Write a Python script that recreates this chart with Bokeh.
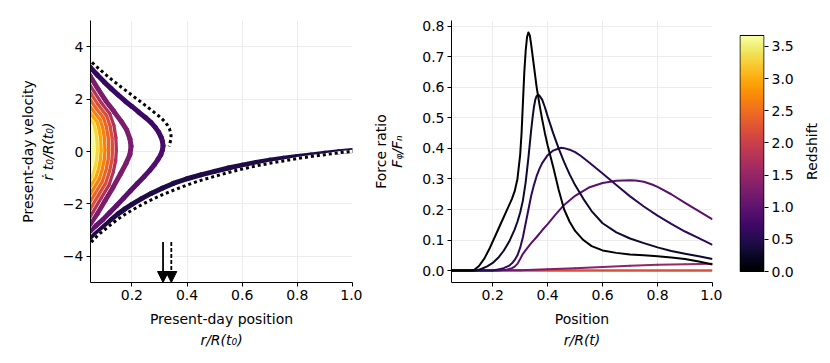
import numpy as np
from bokeh.plotting import figure
from bokeh.layouts import row
from bokeh.models import (ColumnDataSource, FixedTicker, PrintfTickFormatter, Title,
                          Arrow, NormalHead, LinearColorMapper)
from bokeh.palettes import Inferno256
from bokeh.transform import linear_cmap
from bokeh.embed import file_html
from bokeh.resources import INLINE

FONT = "DejaVu Sans"
FS = "14px"
Z_MAX = 3.67

# ---------------- left panel data: present-day phase space ----------------
branch_r = [0.04, 0.05, 0.06, 0.07, 0.085, 0.10, 0.125, 0.15, 0.175, 0.20, 0.235, 0.27, 0.31, 0.35, 0.40,
            0.45, 0.50, 0.55, 0.60, 0.65, 0.70, 0.75, 0.80, 0.85, 0.90, 0.95, 1.0]
branch_v = [-3.55, -3.35, -3.22, -3.1, -2.96, -2.83, -2.6, -2.38, -2.19, -2.02, -1.8, -1.6, -1.4, -1.22, -1.04,
            -0.89, -0.76, -0.63, -0.52, -0.42, -0.33, -0.26, -0.19, -0.13, -0.07, -0.01, 0.04]
branch_z = 0.45

outer_r = [0.04, 0.05, 0.075, 0.10, 0.125, 0.15, 0.175, 0.20, 0.225, 0.25, 0.27, 0.285, 0.297, 0.306, 0.311,
           0.313, 0.311, 0.305, 0.295, 0.282, 0.265, 0.245, 0.22, 0.195, 0.17, 0.145, 0.12, 0.095, 0.07, 0.05, 0.04]
outer_v = [3.33, 3.2, 2.92, 2.65, 2.4, 2.16, 1.93, 1.72, 1.5, 1.29, 1.1, 0.92, 0.74, 0.55, 0.38,
           0.22, 0.06, -0.12, -0.3, -0.5, -0.72, -0.95, -1.22, -1.5, -1.78, -2.06, -2.33, -2.6, -2.83, -3.02, -3.12]
outer_z = [0.62, 0.62, 0.63, 0.64, 0.65, 0.66, 0.67, 0.68, 0.69, 0.7, 0.71, 0.72, 0.74, 0.76, 0.78,
           0.8, 0.82, 0.84, 0.86, 0.87, 0.88, 0.9, 0.92, 0.94, 0.96, 0.98, 1.0, 1.02, 1.04, 1.05, 1.05]

inner1_r = [0.04, 0.05, 0.078, 0.106, 0.134, 0.162, 0.181, 0.193, 0.197, 0.193, 0.179, 0.159, 0.131, 0.103, 0.075, 0.05, 0.04]
inner1_v = [3.02, 2.85, 2.37, 1.92, 1.54, 1.14, 0.83, 0.48, 0.2, -0.11, -0.45, -0.85, -1.38, -1.87, -2.37, -2.75, -2.9]
inner2_r = [0.0398, 0.0609, 0.0888, 0.1171, 0.1316, 0.1388, 0.1406, 0.1381, 0.1298, 0.1138, 0.0859, 0.058, 0.0398]
inner2_v = [2.614, 2.26, 1.809, 1.427, 0.992, 0.534, 0.05, -0.344, -0.763, -1.275, -1.763, -2.263, -2.588]
inner3_r = [0.0281, 0.0492, 0.0771, 0.1054, 0.1182, 0.1251, 0.1268, 0.1245, 0.1166, 0.102, 0.0741, 0.0462, 0.028]
inner3_v = [2.537, 2.183, 1.732, 1.35, 0.956, 0.519, 0.05, -0.324, -0.725, -1.201, -1.689, -2.189, -2.514]
inner4_r = [0.0164, 0.0375, 0.0654, 0.0937, 0.1049, 0.1114, 0.113, 0.1108, 0.1033, 0.0901, 0.0622, 0.0343, 0.0161]
inner4_v = [2.46, 2.106, 1.655, 1.273, 0.92, 0.505, 0.05, -0.303, -0.687, -1.127, -1.615, -2.115, -2.44]
inner5_r = [0.0047, 0.0258, 0.0537, 0.082, 0.0915, 0.0977, 0.0993, 0.0972, 0.0901, 0.0783, 0.0504, 0.0225, 0.0043]
inner5_v = [2.383, 2.029, 1.578, 1.196, 0.883, 0.49, 0.05, -0.283, -0.65, -1.053, -1.541, -2.041, -2.366]
inner6_r = [-0.0071, 0.0141, 0.042, 0.0703, 0.0781, 0.084, 0.0855, 0.0835, 0.0769, 0.0664, 0.0385, 0.0106, -0.0076]
inner6_v = [2.307, 1.953, 1.502, 1.12, 0.847, 0.476, 0.05, -0.263, -0.612, -0.979, -1.467, -1.967, -2.292]
inner7_r = [-0.0188, 0.0023, 0.0302, 0.0585, 0.0648, 0.0703, 0.0717, 0.0699, 0.0637, 0.0546, 0.0267, -0.0012, -0.0194]
inner7_v = [2.23, 1.876, 1.425, 1.043, 0.811, 0.461, 0.05, -0.243, -0.575, -0.905, -1.393, -1.893, -2.218]
inner8_r = [-0.0305, -0.0094, 0.0185, 0.0468, 0.0514, 0.0565, 0.0579, 0.0563, 0.0504, 0.0427, 0.0148, -0.0131, -0.0313]
inner8_v = [2.153, 1.799, 1.348, 0.966, 0.775, 0.447, 0.05, -0.222, -0.537, -0.831, -1.319, -1.819, -2.144]
inner_z = [1.25, 1.75, 2.17, 2.42, 2.64, 2.94, 3.3, 3.62]

dot_up_r = [0.04, 0.05, 0.075, 0.10, 0.125, 0.15, 0.175, 0.20, 0.225, 0.25, 0.27, 0.29, 0.305, 0.318, 0.328,
            0.336, 0.34, 0.342, 0.341, 0.338, 0.335]
dot_up_v = [3.56, 3.45, 3.21, 2.98, 2.76, 2.55, 2.35, 2.15, 1.95, 1.75, 1.59, 1.42, 1.29, 1.15, 1.02,
            0.88, 0.74, 0.6, 0.45, 0.32, 0.2]
dot_lo_r = [0.04, 0.05, 0.06, 0.07, 0.085, 0.10, 0.125, 0.15, 0.175, 0.20, 0.25, 0.30, 0.35, 0.40, 0.45,
            0.50, 0.55, 0.60, 0.65, 0.70, 0.75, 0.80, 0.85, 0.90, 0.95, 1.0]
dot_lo_v = [-3.65, -3.5, -3.38, -3.27, -3.12, -3.0, -2.78, -2.58, -2.4, -2.24, -1.95, -1.7, -1.48, -1.28, -1.1,
            -0.95, -0.8, -0.67, -0.55, -0.45, -0.36, -0.27, -0.19, -0.12, -0.05, 0.01]

arrow_r = [0.313, 0.343]
arrow_dash = ["solid", "4 2"]
arrow_top = -3.45

left_xticks = [0.2, 0.4, 0.6, 0.8, 1.0]
left_yticks = [-4, -2, 0, 2, 4]

# ---------------- right panel data: force ratio ----------------
f0_r = [0.05, 0.13, 0.15, 0.17, 0.19, 0.21, 0.23, 0.25, 0.27, 0.28, 0.29, 0.30, 0.305, 0.31, 0.315, 0.32, 0.325,
        0.33, 0.335, 0.34, 0.35, 0.36, 0.37, 0.38, 0.39, 0.40, 0.42, 0.44, 0.46, 0.48, 0.50, 0.53, 0.56, 0.60,
        0.65, 0.70, 0.75, 0.80, 0.85, 0.90, 0.95, 1.0]
f0_v = [0.0, 0.0, 0.015, 0.04, 0.075, 0.115, 0.155, 0.195, 0.235, 0.26, 0.30, 0.38, 0.45, 0.55, 0.65, 0.72, 0.765,
        0.78, 0.77, 0.74, 0.67, 0.60, 0.545, 0.495, 0.45, 0.41, 0.34, 0.265, 0.2, 0.16, 0.13, 0.1, 0.08, 0.066,
        0.058, 0.053, 0.05, 0.047, 0.043, 0.038, 0.03, 0.02]
f1_r = [0.05, 0.14, 0.16, 0.18, 0.20, 0.22, 0.24, 0.26, 0.28, 0.29, 0.30, 0.31, 0.32, 0.33, 0.34, 0.345, 0.35,
        0.355, 0.36, 0.365, 0.37, 0.38, 0.39, 0.40, 0.42, 0.44, 0.46, 0.48, 0.50, 0.53, 0.56, 0.60, 0.65, 0.70,
        0.75, 0.80, 0.85, 0.90, 0.95, 1.0]
f1_v = [0.0, 0.0, 0.006, 0.014, 0.025, 0.042, 0.065, 0.095, 0.135, 0.16, 0.19, 0.23, 0.29, 0.37, 0.46, 0.5, 0.535,
        0.56, 0.572, 0.576, 0.573, 0.56, 0.535, 0.505, 0.45, 0.4, 0.355, 0.315, 0.28, 0.235, 0.195, 0.155, 0.125,
        0.105, 0.09, 0.076, 0.064, 0.055, 0.047, 0.038]
f2_r = [0.05, 0.20, 0.22, 0.24, 0.26, 0.27, 0.28, 0.29, 0.30, 0.31, 0.32, 0.33, 0.34, 0.35, 0.36, 0.37, 0.38,
        0.40, 0.42, 0.44, 0.45, 0.46, 0.48, 0.50, 0.52, 0.55, 0.60, 0.65, 0.70, 0.75, 0.80, 0.85, 0.90, 0.95, 1.0]
f2_v = [0.0, 0.0, 0.004, 0.008, 0.016, 0.024, 0.035, 0.05, 0.075, 0.11, 0.155, 0.2, 0.245, 0.28, 0.31, 0.333,
        0.352, 0.378, 0.393, 0.4, 0.402, 0.401, 0.396, 0.388, 0.376, 0.355, 0.318, 0.28, 0.243, 0.21, 0.18, 0.153,
        0.128, 0.106, 0.084]
f3_r = [0.05, 0.22, 0.25, 0.27, 0.28, 0.29, 0.30, 0.31, 0.32, 0.34, 0.36, 0.38, 0.40, 0.43, 0.46, 0.50, 0.55,
        0.60, 0.65, 0.70, 0.72, 0.75, 0.78, 0.80, 0.85, 0.90, 0.95, 1.0]
f3_v = [0.0, 0.0, 0.003, 0.008, 0.013, 0.022, 0.038, 0.055, 0.067, 0.09, 0.11, 0.132, 0.152, 0.185, 0.215, 0.245,
        0.272, 0.287, 0.294, 0.296, 0.295, 0.291, 0.282, 0.274, 0.25, 0.222, 0.195, 0.168]
force_z = [0.0, 0.3, 0.55, 0.95]

rise_r = [0.05, 0.30, 0.40, 0.50, 0.60, 0.70, 0.80, 0.90, 1.0]
rise_v = [0.0, 0.001, 0.004, 0.008, 0.012, 0.016, 0.019, 0.021, 0.022]
rise_z = [1.15, 1.2, 1.27, 1.33, 1.4, 1.46, 1.52, 1.57, 1.62]

flat_r = [0.05, 1.0]
flat_v = [0.0, 0.0]
flat_z = 2.2

right_xticks = [0.2, 0.4, 0.6, 0.8, 1.0]
right_yticks = [0.0, 0.1, 0.2, 0.3, 0.4, 0.5, 0.6, 0.7, 0.8]

cbar_ticks = [0.0, 0.5, 1.0, 1.5, 2.0, 2.5, 3.0, 3.5]
CB_LO, CB_HI = -0.171, 3.903   # visible y-span of the colorbar strip (bar itself spans 0..Z_MAX)


def cmap(field):
    return linear_cmap(field, Inferno256, 0, Z_MAX)


def style_axes(p):
    p.outline_line_color = None
    p.background_fill_color = "white"
    p.border_fill_color = "white"
    for ax in list(p.xaxis) + list(p.yaxis):
        ax.major_tick_in = 0
        ax.major_tick_out = 4
        ax.minor_tick_line_color = None
        ax.axis_line_color = "black"
        ax.major_tick_line_color = "black"
        ax.major_label_text_font = FONT
        ax.major_label_text_font_size = FS
        ax.major_label_text_color = "black"
        ax.axis_label_text_font = FONT
        ax.axis_label_text_font_size = FS
        ax.axis_label_text_color = "black"
        ax.major_label_standoff = 3
        ax.axis_label_standoff = 4
    for g in p.grid:
        g.grid_line_color = "#ececec"


def add_title(p, text, side, italic, standoff):
    p.add_layout(Title(text=text, align="center", text_font=FONT, text_font_size=FS,
                       text_font_style="italic" if italic else "normal", text_color="black",
                       standoff=standoff, offset=0), side)


def gradient_curve(p, r, v, z, width, halo):
    r = np.asarray(r, float)
    v = np.asarray(v, float)
    z = np.broadcast_to(np.asarray(z, float), r.shape)
    if halo > 0:
        p.line(r, v, line_color="white", line_width=width + halo, line_cap="round", line_join="round")
    src = ColumnDataSource(dict(x0=r[:-1], y0=v[:-1], x1=r[1:], y1=v[1:], z=(z[:-1] + z[1:]) / 2))
    p.segment("x0", "y0", "x1", "y1", source=src, line_color=cmap("z"), line_width=width, line_cap="round")


# ---------------- left figure ----------------
p1 = figure(width=362, height=350, x_range=(0.05, 1.0), y_range=(-5, 5),
            min_border_left=90, min_border_right=10, min_border_top=20, min_border_bottom=68,
            output_backend="svg", toolbar_location=None)
style_axes(p1)
p1.xaxis.ticker = FixedTicker(ticks=left_xticks)
p1.xaxis.formatter = PrintfTickFormatter(format="%.1f")
p1.yaxis.ticker = FixedTicker(ticks=left_yticks)
p1.yaxis.major_label_overrides = {t: str(t).replace("-", "\u2212") for t in left_yticks}
p1.xaxis.axis_label = "Present-day position"
p1.xaxis.axis_label_text_font_style = "normal"
p1.xaxis.axis_label_standoff = 8
p1.yaxis.axis_label = "\u1e59 t\u2080/R(t\u2080)"
p1.yaxis.axis_label_text_font_style = "italic"
add_title(p1, "r/R(t\u2080)", "below", True, 0)
add_title(p1, "Present-day velocity", "left", False, 2)

gradient_curve(p1, branch_r, branch_v, branch_z, 5, 1.6)
gradient_curve(p1, outer_r, outer_v, outer_z, 5, 1.6)
inner = [(inner1_r, inner1_v), (inner2_r, inner2_v), (inner3_r, inner3_v), (inner4_r, inner4_v),
         (inner5_r, inner5_v), (inner6_r, inner6_v), (inner7_r, inner7_v), (inner8_r, inner8_v)]
for (rr, vv), zz in zip(inner, inner_z):
    gradient_curve(p1, rr, vv, zz, 5, 1.0)

for rr, vv in [(dot_up_r, dot_up_v), (dot_lo_r, dot_lo_v)]:
    p1.line(rr, vv, line_color="white", line_width=3)
    p1.line(rr, vv, line_color="black", line_width=3, line_dash="3 3")

for ra, dash in zip(arrow_r, arrow_dash):
    p1.add_layout(Arrow(end=NormalHead(size=11, fill_color="black", line_color="black", line_width=1),
                        x_start=ra, y_start=arrow_top, x_end=ra, y_end=-5.0,
                        line_color="black", line_width=1.8, line_dash=dash))

# ---------------- right figure ----------------
p2 = figure(width=360, height=350, x_range=(0.05, 1.0), y_range=(-0.039, 0.819),
            min_border_left=89, min_border_right=10, min_border_top=20, min_border_bottom=68,
            output_backend="svg", toolbar_location=None)
style_axes(p2)
p2.xaxis.ticker = FixedTicker(ticks=right_xticks)
p2.xaxis.formatter = PrintfTickFormatter(format="%.1f")
p2.yaxis.ticker = FixedTicker(ticks=right_yticks)
p2.yaxis.formatter = PrintfTickFormatter(format="%.1f")
p2.xaxis.axis_label = "Position"
p2.xaxis.axis_label_text_font_style = "normal"
p2.xaxis.axis_label_standoff = 8
p2.yaxis.axis_label = "F\u1d69/F\u2099"
p2.yaxis.axis_label_text_font_style = "italic"
p2.yaxis.axis_label_standoff = 14
add_title(p2, "r/R(t)", "below", True, 0)
add_title(p2, "Force ratio", "left", False, -5)

p2.line(flat_r, flat_v, line_color=Inferno256[int(flat_z / Z_MAX * 255)], line_width=2.5)
gradient_curve(p2, rise_r, rise_v, rise_z, 2, 0)
src_f = ColumnDataSource(dict(xs=[f3_r, f2_r, f1_r, f0_r], ys=[f3_v, f2_v, f1_v, f0_v],
                              z=force_z[::-1]))
p2.multi_line("xs", "ys", source=src_f, line_color=cmap("z"), line_width=2, line_join="round")

# ---------------- colorbar figure ----------------
p3 = figure(width=74, height=350, x_range=(-0.02, 1.02), y_range=(CB_LO, CB_HI),
            min_border_left=17, min_border_right=32, min_border_top=20, min_border_bottom=68,
            y_axis_location="right", output_backend="svg", toolbar_location=None)
style_axes(p3)
p3.xaxis.visible = False
p3.xgrid.visible = False
p3.ygrid.visible = False
p3.yaxis.ticker = FixedTicker(ticks=cbar_ticks)
p3.yaxis.formatter = PrintfTickFormatter(format="%.1f")
p3.yaxis.axis_line_color = None
grad = np.linspace(0, Z_MAX, 256).reshape(256, 1)
p3.image(image=[grad], x=0, y=0, dw=1, dh=Z_MAX,
         color_mapper=LinearColorMapper(palette=Inferno256, low=0, high=Z_MAX))
p3.quad(left=0, right=1, bottom=0, top=Z_MAX, fill_color=None, line_color="black", line_width=1)

# colorbar label (a title on the left side of a slim figure reads bottom-to-top)
p4 = figure(width=34, height=350, x_axis_location=None, y_axis_location=None,
            min_border_left=24, min_border_right=0, min_border_top=20, min_border_bottom=68,
            output_backend="svg", toolbar_location=None)
p4.outline_line_color = None
p4.grid.visible = False
p4.border_fill_color = "white"
add_title(p4, "Redshift", "left", False, 2)

layout = row(p1, p2, p3, p4)
open("out.html", "w").write(file_html(layout, INLINE))
